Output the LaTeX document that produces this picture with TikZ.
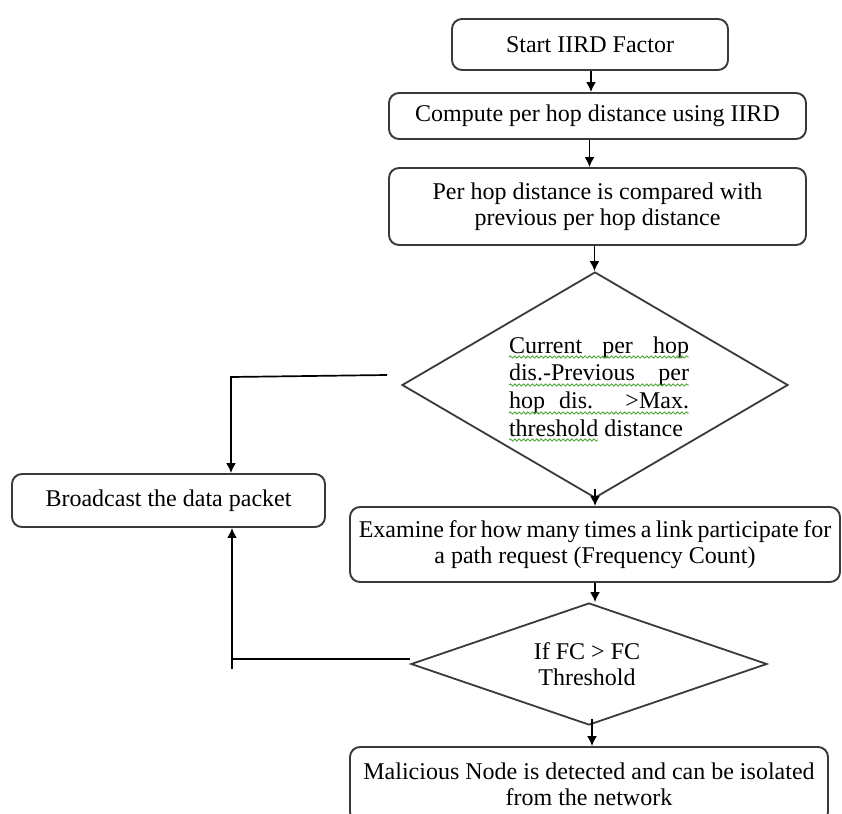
\documentclass[tikz,border=0pt]{standalone}
\usepackage{fontspec}
\setmainfont{Liberation Serif}
\usetikzlibrary{shapes.geometric,arrows.meta,decorations.pathmorphing}
\definecolor{edge}{HTML}{3A3A3A}
\definecolor{spell}{HTML}{4FA83A}
\tikzset{
  procbox/.style={draw=edge, line width=0.95pt, rounded corners=5pt, inner sep=0pt,
    align=center, font=\fontsize{12}{13}\selectfont},
  decbox/.style={draw=edge, line width=0.9pt, diamond, inner sep=0pt},
  arr/.style={draw=black, line width=0.85pt, -{Latex[length=5pt,width=5pt]}},
  plain/.style={draw=black, line width=0.85pt},
  wave/.style={draw=spell, line width=0.45pt, decorate,
    decoration={snake, amplitude=0.55pt, segment length=2.2pt}},
  dtext/.style={inner sep=0pt, font=\fontsize{12}{13}\selectfont}
}
\begin{document}
\begin{tikzpicture}[x=0.5pt,y=-0.5pt]
\useasboundingbox (0,0) rectangle (842,814);

\node[procbox, minimum width=138pt, minimum height=25.5pt] (b1) at (590,44.5) {Start IIRD Factor};
\node[procbox, minimum width=208.5pt, minimum height=23pt] (b2) at (597.5,116) {Compute per hop distance using IIRD};
\node[procbox, minimum width=208.5pt, minimum height=38.5pt] (b3) at (597.5,206.5) {Per hop distance is compared with\\previous per hop distance};

\node[decbox, minimum width=193pt, minimum height=113pt] (d1) at (595,385) {};
\node[dtext, anchor=base] (d1t) at (599,353) {\parbox[t]{90pt}{\baselineskip=13.85pt
  \makebox[90pt][s]{Current per hop}\\
  \makebox[90pt][s]{dis.-Previous per}\\
  \makebox[90pt][s]{hop dis. >Max.}\\
  threshold distance}};

\node[procbox, minimum width=156.5pt, minimum height=26.5pt] (bc) at (168.5,500.5) {Broadcast the data packet};

\node[procbox, minimum width=245pt, minimum height=37.5pt] (ex) at (595,544.5) {{\spaceskip=2.2pt Examine for how many times a link participate for}\\a path request (Frequency Count)};

\node[decbox, minimum width=178pt, minimum height=61pt] (d2) at (589,664) {};
\node[dtext, align=center] (d2t) at (587,664) {If FC > FC\\Threshold};

\node[procbox, minimum width=239pt, minimum height=37.5pt] (mal) at (589,784.5) {Malicious Node is detected and can be isolated\\from the network};

% spell-check underlines
\draw[wave] (509,357) -- (689,357);
\draw[wave] (509,385) -- (689,385);
\draw[wave] (509,413) -- (689,413);
\draw[wave] (509,440) -- (598,440);

% main flow
\draw[arr] ([xshift=0.5pt]b1.south) -- ([xshift=0.5pt]b1.south |- b2.north);
\draw[arr] ([xshift=-4pt]b2.south) -- ([xshift=-4pt]b2.south |- b3.north);
\draw[arr] ([xshift=-1.5pt]b3.south) -- ([xshift=-1.5pt]b3.south |- d1.north);
\draw[arr] ([yshift=5pt]d1.south) -- (ex.north);
\draw[arr] (ex.south) -- (ex.south |- d2.north);
\draw[arr] ([xshift=1.5pt,yshift=3.5pt]d2.south) -- ([xshift=1.5pt]d2.south |- mal.north);

% left branches
\coordinate (j1) at (231,377);
\draw[arr] ([xshift=-7pt,yshift=5pt]d1.west) -- (j1) -- (j1 |- bc.north);
\coordinate (j2) at (232,659);
\draw[plain] ([yshift=2.5pt]d2.west) -- (j2);
\draw[arr] ([yshift=-5pt]j2) -- (j2 |- bc.south);
\end{tikzpicture}
\end{document}
